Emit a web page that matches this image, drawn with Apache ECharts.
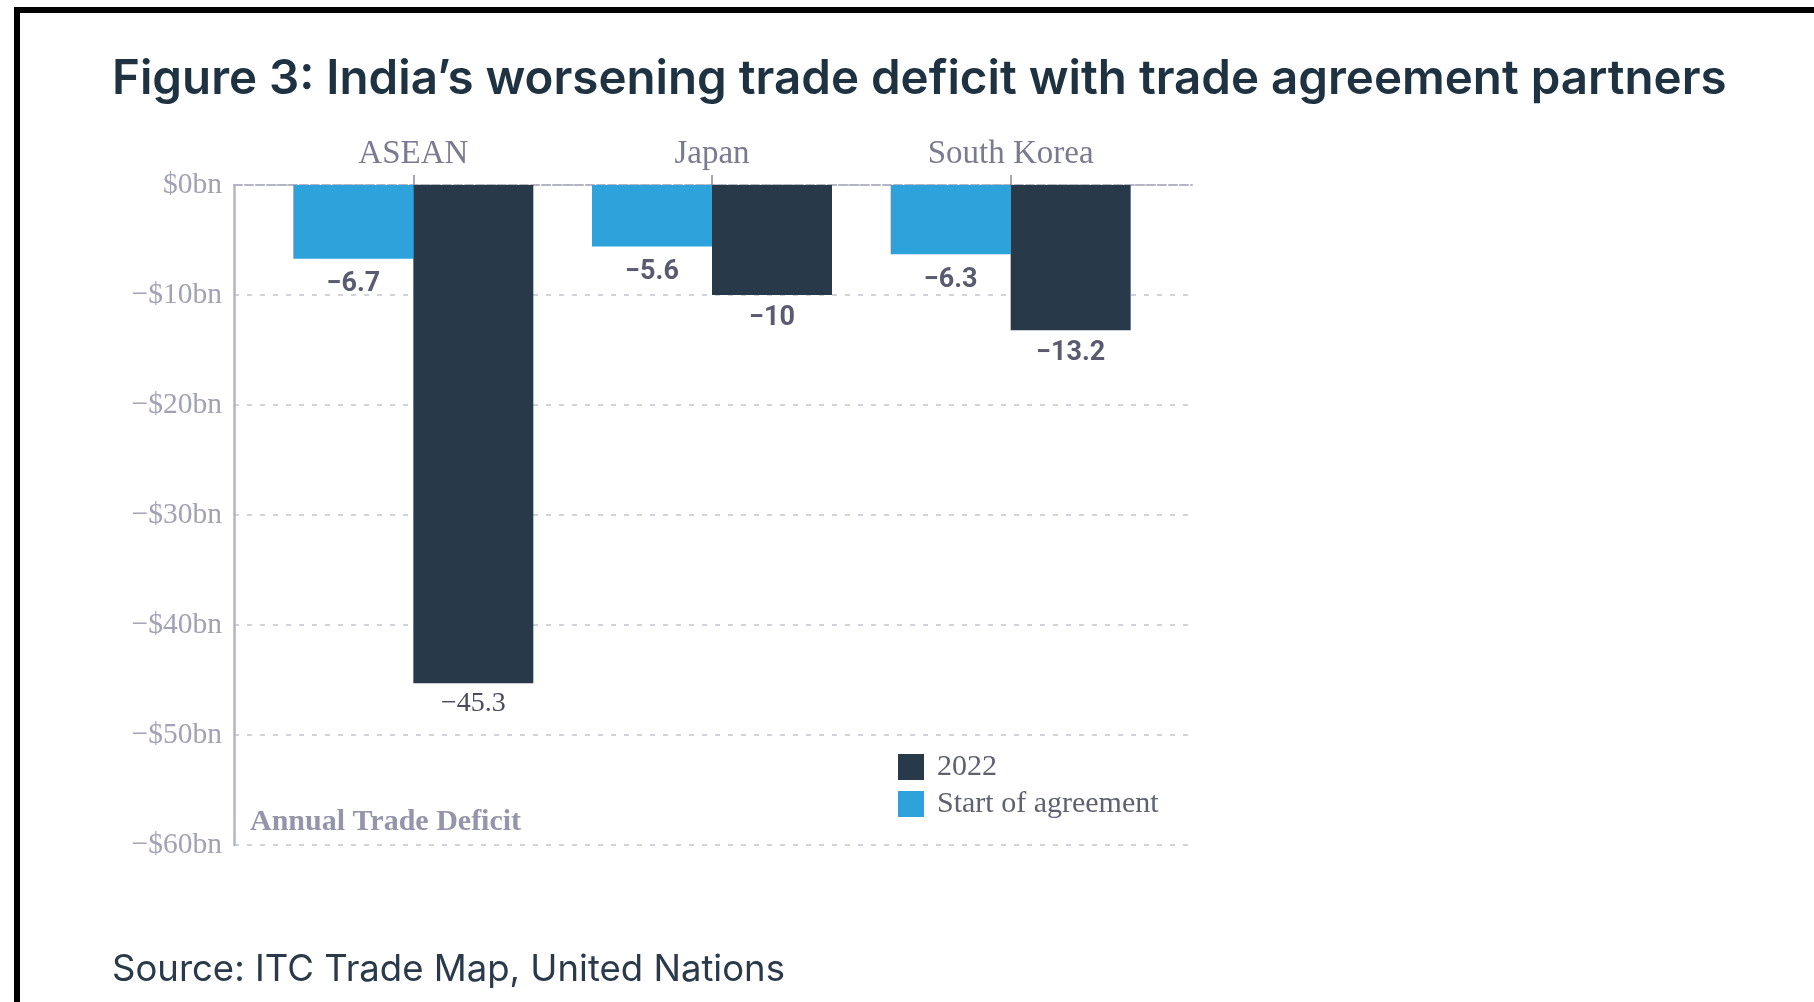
<!DOCTYPE html>
<html>
<head>
<meta charset="utf-8">
<script src="https://cdn.jsdelivr.net/npm/echarts@6/dist/echarts.min.js"></script>
<style>
html,body{margin:0;padding:0;background:#fff;}
#bt{position:absolute;left:14px;top:7px;width:1800px;height:6px;background:#000;}
#bl{position:absolute;left:14px;top:7px;width:6px;height:995px;background:#000;}
#chart{position:absolute;left:0;top:0;width:1814px;height:1002px;}
</style>
</head>
<body>
<div id="chart"></div>
<div id="bt"></div>
<div id="bl"></div>
<script>
const categories = ['ASEAN', 'Japan', 'South Korea'];
const startOfAgreement = [-6.7, -5.6, -6.3];
const year2022 = [-45.3, -10, -13.2];
const yMin = -60, yMax = 0, yStep = 10;
const titleText = 'Figure 3: India\u2019s worsening trade deficit with trade agreement partners';
const sourceText = 'Source: ITC Trade Map, United Nations';
const axisNote = 'Annual Trade Deficit';

const fmt = v => (v < 0 ? '\u2212' : '') + Math.abs(v);
const chart = echarts.init(document.getElementById('chart'));
const darkLabelSans = {show:true, position:'bottom', distance:10, fontFamily:'Roboto', fontWeight:'bold', fontSize:27, color:'#5a5a70', formatter: p => fmt(p.value)};
const darkLabelSerif = {show:true, position:'bottom', distance:6, fontFamily:'Liberation Serif', fontWeight:'normal', fontSize:28, color:'#4a4a60', formatter: p => fmt(p.value)};

chart.setOption({
  animation:false,
  title:[
    {text:titleText, left:107, top:49, textStyle:{fontFamily:'Inter', fontWeight:600, fontSize:47.5, color:'#1e3242', lineHeight:52}},
    {text:sourceText, left:107, top:945, textStyle:{fontFamily:'Inter', fontWeight:'normal', fontSize:36.5, color:'#2a3a4a', lineHeight:40}},
    {text:axisNote, left:245, top:801, textStyle:{fontFamily:'Liberation Serif', fontWeight:'bold', fontSize:30, color:'#9494aa', lineHeight:32}}
  ],
  legend:{
    data:['2022','Start of agreement'], orient:'vertical', left:898, top:752, padding:0,
    itemWidth:26, itemHeight:26, itemGap:7, icon:'rect',
    textStyle:{fontFamily:'Liberation Serif', fontSize:30, color:'#5f6170', padding:[0,0,0,8]}
  },
  grid:[
    {left:234, right:622, top:185, bottom:157, containLabel:false},
    {left:264, right:654, top:185, bottom:157, containLabel:false}
  ],
  xAxis:[
    {gridIndex:0, type:'category', data:categories, position:'top', axisLine:{onZero:false, lineStyle:{color:'#b4b4c4', width:2, type:[8,3]}}, axisTick:{show:false}, axisLabel:{show:false}, splitLine:{show:false}},
    {gridIndex:1, type:'category', data:categories, position:'top', axisLine:{show:false}, axisTick:{show:true, alignWithLabel:true, length:10, lineStyle:{color:'#8a8a9c', width:1.5}}, axisLabel:{margin:14, fontFamily:'Liberation Serif', fontSize:33, color:'#7a7a90'}}
  ],
  yAxis:[
    {gridIndex:0, type:'value', min:yMin, max:yMax, interval:yStep, axisLine:{show:true, lineStyle:{color:'#b4b4c8', width:2.5}}, axisTick:{show:false},
     axisLabel:{margin:12, fontFamily:'Liberation Serif', fontSize:29.5, color:'#a2a2b4', formatter: v => v === 0 ? '$0bn' : '\u2212$' + Math.abs(v) + 'bn'},
     splitLine:{show:true, lineStyle:{color:'#c4c4d0', width:1.5, type:[5,8]}}},
    {gridIndex:1, type:'value', min:yMin, max:yMax, interval:yStep, show:false}
  ],
  series:[
    {name:'Start of agreement', type:'bar', xAxisIndex:1, yAxisIndex:1, data:startOfAgreement, barWidth:120, barGap:'0%', z:3,
     itemStyle:{color:'#2ea3db'},
     label:{show:true, position:'bottom', distance:12, fontFamily:'Roboto', fontWeight:'bold', fontSize:27, color:'#5a5a70', formatter: p => fmt(p.value)}},
    {name:'2022', type:'bar', xAxisIndex:1, yAxisIndex:1, barWidth:120, barGap:'0%', z:3,
     data: year2022.map((v, i) => i === 0 ? {value:v, label:darkLabelSerif} : {value:v}),
     itemStyle:{color:'#283a4a'},
     label:darkLabelSans}
  ]
});
</script>
</body>
</html>
